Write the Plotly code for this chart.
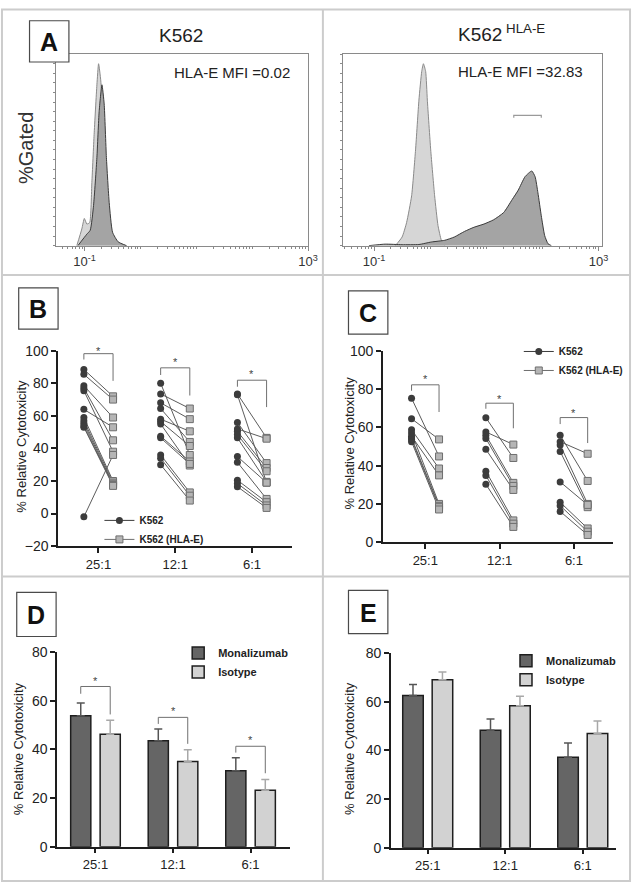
import plotly.graph_objects as go

W, H = 642, 891
FONT = "Arial, Liberation Sans, sans-serif"

# ---------------- Panel A: flow histograms (x = log10 fluorescence, y = fraction of max) ----
A1_iso_logx = [-1.14, -1.05, -1.005, -0.96, -0.91, -0.87, -0.83, -0.78, -0.75, -0.71, -0.66, -0.62, -0.58, -0.52, -0.43, -0.25]
A1_iso_y = [0, 0.087, 0.142, 0.113, 0.12, 0.33, 0.58, 0.84, 0.95, 0.86, 0.58, 0.33, 0.156, 0.053, 0.01, 0]
A1_ab_logx = [-1.12, -0.96, -0.9, -0.84, -0.78, -0.74, -0.69, -0.65, -0.61, -0.56, -0.5, -0.4, -0.25]
A1_ab_y = [0, 0.06, 0.08, 0.21, 0.46, 0.70, 0.84, 0.74, 0.46, 0.225, 0.07, 0.02, 0]

A2_iso_logx = [-0.62, -0.5, -0.42, -0.33, -0.26, -0.2, -0.15, -0.12, -0.08, -0.05, 0.01, 0.08, 0.14, 0.2, 0.26]
A2_iso_y = [0, 0.045, 0.12, 0.26, 0.5, 0.76, 0.91, 0.95, 0.91, 0.76, 0.5, 0.26, 0.105, 0.028, 0]
A2_ab_logx = [-1.09, -0.8, -0.5, -0.2, 0.02, 0.26, 0.43, 0.61, 0.78, 0.96, 1.13, 1.31, 1.46, 1.57, 1.69,
              1.81, 1.87, 1.92, 1.98, 2.04, 2.1, 2.16]
A2_ab_y = [0, 0.008, 0.005, 0.006, 0.019, 0.028, 0.045, 0.074, 0.096, 0.113, 0.135, 0.173, 0.24, 0.29, 0.36,
           0.39, 0.36, 0.276, 0.156, 0.053, 0.01, 0]
A2_gate_logx = [1.49, 1.98]
A2_gate_y = 0.68

A_titles = ["K562", "K562<sup> HLA-E</sup>"]
A_mfi = ["HLA-E MFI =0.02", "HLA-E MFI =32.83"]
A_tickvals = [0.1, 1000]
A_ticktext = ["10<sup>-1</sup>", "10<sup>3</sup>"]

# ---------------- Categories ----------------
cats = ["25:1", "12:1", "6:1"]

# ---------------- Panel B: paired % relative cytotoxicity ----------------
B_K562_25 = [88.5, 85.5, 78.5, 77, 75.5, 64, 59, 57, 55.5, 54, 53, -2]
B_HLAE_25 = [72, 70, 59, 45, 38, 53, 20, 19, 18, 17.5, 17, 36]
B_K562_12 = [80, 73.5, 68, 64.5, 58, 56.5, 55, 47.5, 46.5, 36, 34, 30]
B_HLAE_12 = [36, 64.5, 58, 44, 50.5, 41.5, 29.5, 32, 30.5, 13, 11, 8]
B_K562_6 = [73.5, 73, 56, 52, 50.5, 48.5, 46.5, 35, 31.5, 20.5, 18.5, 16.5]
B_HLAE_6 = [46.5, 19, 31, 46, 28, 26, 19.5, 19, 9, 7, 5, 3.5]
B_sig_top = [98.2, 89.5, 81.9]
B_sig_left = [94.6, 85.1, 77.9]
B_sig_right = [81.5, 72.5, 65.4]
B_star = [99.9, 93.0, 85.5]
B_yticks = [-20, 0, 20, 40, 60, 80, 100]

# ---------------- Panel C ----------------
C_K562_25 = [75.2, 64.5, 58.8, 57.1, 55.4, 54.5, 53.7, 52.5]
C_HLAE_25 = [44.8, 53.7, 38.5, 20, 34.9, 19, 18.3, 17.1]
C_K562_12 = [65, 57.6, 55.9, 54.2, 48.5, 37.1, 34.9, 30.3]
C_HLAE_12 = [44, 51, 31, 29.4, 27.3, 11.4, 9.7, 8]
C_K562_6 = [55.9, 52.5, 50.8, 47.4, 31.5, 20.9, 19.1, 16.1]
C_HLAE_6 = [32, 46.2, 20, 18.3, 19.5, 7.2, 5.5, 3.8]
C_sig_top = [82.2, 72.6, 65.1]
C_sig_left = [79.1, 69.7, 61.7]
C_sig_right = [68, 59.5, 51.8]
C_star = [85.2, 75.0, 67.3]
C_yticks = [0, 20, 40, 60, 80, 100]

# ---------------- Panel D / E: bars (mean, SEM) ----------------
D_mona = [53.9, 43.6, 31.2]
D_mona_sem = [5.2, 4.8, 5.4]
D_iso = [46.3, 35.0, 23.2]
D_iso_sem = [5.7, 4.9, 4.4]
D_sig_top = [65.9, 53.2, 41.3]
D_sig_left = [62.9, 50.5, 38.7]
D_sig_right = [54.4, 42.3, 30.2]
D_star = [68.0, 55.8, 43.8]

E_mona = [62.6, 48.3, 37.2]
E_mona_sem = [4.5, 4.6, 5.9]
E_iso = [69.1, 58.4, 47.0]
E_iso_sem = [3.2, 3.9, 5.1]
DE_yticks = [0, 20, 40, 60, 80]

series_names = ["K562", "K562 (HLA-E)"]
bar_names = ["Monalizumab", "Isotype"]
ylab = "% Relative Cytotoxicity"

# ---------------- styles ----------------
DOT = "#3c3c3c"
SQ_FILL = "#b5b5b5"
SQ_LINE = "#6e6e6e"
CONN = "#5c5c5c"
BRK = "#707070"
DARK_BAR = "#656565"
LIGHT_BAR = "#d2d2d2"
AXC = "#1e1e1e"

fig = go.Figure()
annotations = []


def hist(lx, ly, xa, ya, fill, line):
    fig.add_trace(go.Scatter(x=[10 ** v for v in lx], y=ly, mode="lines", xaxis=xa, yaxis=ya,
                             line=dict(color=line, width=1, shape="spline", smoothing=0.5),
                             fill="tozeroy", fillcolor=fill, showlegend=False, hoverinfo="skip"))


hist(A1_iso_logx, A1_iso_y, "x", "y", "#d6d6d6", "#8a8a8a")
hist(A1_ab_logx, A1_ab_y, "x", "y", "#a4a4a4", "#3a3a3a")
hist(A2_iso_logx, A2_iso_y, "x2", "y2", "#d6d6d6", "#8a8a8a")
hist(A2_ab_logx, A2_ab_y, "x2", "y2", "#a4a4a4", "#3a3a3a")
# gate marker
gx = [10 ** A2_gate_logx[0], 10 ** A2_gate_logx[0], 10 ** A2_gate_logx[1], 10 ** A2_gate_logx[1]]
fig.add_trace(go.Scatter(x=gx, y=[A2_gate_y - 0.012, A2_gate_y, A2_gate_y, A2_gate_y - 0.012], mode="lines",
                         xaxis="x2", yaxis="y2", line=dict(color="#9a9a9a", width=1.2),
                         showlegend=False, hoverinfo="skip"))


def paired(kl, hl, xa, ya, off, legend):
    lx, ly, kx, ky, hx, hy = [], [], [], [], [], []
    for ci, (k, h) in enumerate(zip(kl, hl)):
        for a, b in zip(k, h):
            lx += [ci - off, ci + off, None]
            ly += [a, b, None]
            kx.append(ci - off); ky.append(a)
            hx.append(ci + off); hy.append(b)
    fig.add_trace(go.Scatter(x=lx, y=ly, mode="lines", xaxis=xa, yaxis=ya, line=dict(color=CONN, width=1),
                             showlegend=False, hoverinfo="skip"))
    fig.add_trace(go.Scatter(x=hx, y=hy, mode="markers", xaxis=xa, yaxis=ya, showlegend=False,
                             marker=dict(symbol="square", size=7, color=SQ_FILL, line=dict(color=SQ_LINE, width=1))))
    fig.add_trace(go.Scatter(x=kx, y=ky, mode="markers", xaxis=xa, yaxis=ya, showlegend=False,
                             marker=dict(symbol="circle", size=7, color=DOT)))
    # legend entries
    fig.add_trace(go.Scatter(x=[None], y=[None], mode="lines+markers", xaxis=xa, yaxis=ya, name=series_names[0],
                             legend=legend, line=dict(color=DOT, width=1),
                             marker=dict(symbol="circle", size=7, color=DOT)))
    fig.add_trace(go.Scatter(x=[None], y=[None], mode="lines+markers", xaxis=xa, yaxis=ya, name=series_names[1],
                             legend=legend, line=dict(color=SQ_LINE, width=1),
                             marker=dict(symbol="square", size=7, color=SQ_FILL, line=dict(color=SQ_LINE, width=1))))


def brackets(top, left, right, star, xa, ya, off):
    bx, by = [], []
    for ci in range(len(top)):
        bx += [ci - off, ci - off, ci + off, ci + off, None]
        by += [left[ci], top[ci], top[ci], right[ci], None]
    fig.add_trace(go.Scatter(x=bx, y=by, mode="lines", xaxis=xa, yaxis=ya, line=dict(color=BRK, width=1),
                             showlegend=False, hoverinfo="skip", cliponaxis=False))
    for ci, sy in enumerate(star):
        annotations.append(dict(text="*", x=ci, y=sy, xref=xa, yref=ya, showarrow=False,
                                xanchor="center", yanchor="middle",
                                font=dict(family=FONT, size=11, color="#444")))


B_OFF = 0.19
C_OFF = 0.185
paired([B_K562_25, B_K562_12, B_K562_6], [B_HLAE_25, B_HLAE_12, B_HLAE_6], "x3", "y3", B_OFF, "legend")
brackets(B_sig_top, B_sig_left, B_sig_right, B_star, "x3", "y3", B_OFF)
paired([C_K562_25, C_K562_12, C_K562_6], [C_HLAE_25, C_HLAE_12, C_HLAE_6], "x4", "y4", C_OFF, "legend2")
brackets(C_sig_top, C_sig_left, C_sig_right, C_star, "x4", "y4", C_OFF)


def bars(mona, mona_sem, iso, iso_sem, xa, ya, off, width, legend):
    fig.add_trace(go.Bar(x=[i - off for i in range(len(mona))], y=mona, width=width, xaxis=xa, yaxis=ya,
                         name=bar_names[0], legend=legend,
                         marker=dict(color=DARK_BAR, line=dict(color=AXC, width=1.5)),
                         error_y=dict(type="data", array=mona_sem, arrayminus=[0] * len(mona), symmetric=False,
                                      color="#555555", thickness=1.5, width=4)))
    fig.add_trace(go.Bar(x=[i + off for i in range(len(iso))], y=iso, width=width, xaxis=xa, yaxis=ya,
                         name=bar_names[1], legend=legend,
                         marker=dict(color=LIGHT_BAR, line=dict(color=AXC, width=1.5)),
                         error_y=dict(type="data", array=iso_sem, arrayminus=[0] * len(iso), symmetric=False,
                                      color="#a8a8a8", thickness=1.5, width=4)))


bars(D_mona, D_mona_sem, D_iso, D_iso_sem, "x5", "y5", 0.19, 0.26, "legend3")
brackets(D_sig_top, D_sig_left, D_sig_right, D_star, "x5", "y5", 0.19)
bars(E_mona, E_mona_sem, E_iso, E_iso_sem, "x6", "y6", 0.19, 0.265, "legend4")


def dom_x(a, b):
    return [a / W, b / W]


def dom_y(top, bottom):
    return [1 - bottom / H, 1 - top / H]


minor_vals = [m * 10 ** d for d in range(-2, 3) for m in range(1, 10) if not (m == 1 and d == -1)]
hist_x = dict(type="log", showline=True, mirror=True, linecolor="#8a8a8a", linewidth=1, ticks="outside",
              ticklen=4, tickcolor="#8a8a8a", tickvals=A_tickvals, ticktext=A_ticktext,
              tickfont=dict(family=FONT, size=13, color="#333"), showgrid=False, zeroline=False,
              minor=dict(tickvals=minor_vals, ticks="outside", ticklen=2, tickcolor="#8a8a8a", showgrid=False))
hist_y = dict(range=[0, 1], showline=True, mirror=True, linecolor="#8a8a8a", linewidth=1, ticks="outside",
              ticklen=2, tickcolor="#8a8a8a", tickvals=[i * 0.05 for i in range(21)], showticklabels=False,
              showgrid=False, zeroline=False)


def cat_x(dom, rng):
    return dict(domain=dom, range=rng, showline=True, linecolor=AXC, linewidth=1.5, ticks="outside", ticklen=5,
                tickwidth=1.5, tickcolor=AXC, tickvals=[0, 1, 2], ticktext=cats,
                tickfont=dict(family=FONT, size=13, color="#222"), showgrid=False, zeroline=False)


def val_y(dom, rng, tv):
    return dict(domain=dom, range=rng, showline=True, linecolor=AXC, linewidth=1.5, ticks="outside", ticklen=5,
                tickwidth=1.5, tickcolor=AXC, tickvals=tv, tickfont=dict(family=FONT, size=14, color="#222"),
                showgrid=False, zeroline=False)


fig.update_layout(
    width=W, height=H, margin=dict(l=0, r=0, t=0, b=0), paper_bgcolor="white", plot_bgcolor="white",
    barmode="overlay", font=dict(family=FONT),
    xaxis=dict(domain=dom_x(57, 313), range=[-1.51, 3.0], anchor="y", **hist_x),
    yaxis=dict(domain=dom_y(47, 242), anchor="x", **hist_y),
    xaxis2=dict(domain=dom_x(348, 612), range=[-1.56, 3.07], anchor="y2", **hist_x),
    yaxis2=dict(domain=dom_y(47, 242), anchor="x2", **hist_y),
    xaxis3=dict(anchor="y3", **cat_x(dom_x(59, 297), [-0.526, 2.526])),
    yaxis3=dict(anchor="x3", **val_y(dom_y(349, 548), [-20, 100], B_yticks)),
    xaxis4=dict(anchor="y4", **cat_x(dom_x(389, 623), [-0.57, 2.53])),
    yaxis4=dict(anchor="x4", **val_y(dom_y(349, 544), [0, 100], C_yticks)),
    xaxis5=dict(anchor="y5", **cat_x(dom_x(58, 295), [-0.495, 2.514])),
    yaxis5=dict(anchor="x5", **val_y(dom_y(656, 854), [0, 80], DE_yticks)),
    xaxis6=dict(anchor="y6", **cat_x(dom_x(397, 626), [-0.476, 2.432])),
    yaxis6=dict(anchor="x6", **val_y(dom_y(657, 855), [0, 80], DE_yticks)),
)

leg_common = dict(xanchor="left", yanchor="top", bgcolor="rgba(0,0,0,0)", borderwidth=0, itemwidth=30,
                  tracegroupgap=0, font=dict(family=FONT, size=10, color="#222", weight="bold"))
leg_bar = {**leg_common, "font": dict(family=FONT, size=11, color="#222", weight="bold")}
fig.update_layout(
    legend=dict(x=101 / W, y=1 - 507 / H, **leg_common),
    legend2=dict(x=527 / W, y=1 - 335 / H, **leg_common),
    legend3=dict(x=181 / W, y=1 - 642 / H, **leg_bar),
    legend4=dict(x=514 / W, y=1 - 650 / H, **leg_bar),
)

shapes = []
DIV = "#cccccc"
# outer frame and dividers
shapes.append(dict(type="rect", xref="paper", yref="paper", x0=2 / W, x1=640 / W, y0=1 - 889 / H, y1=1 - 1.5 / H,
                   line=dict(color=DIV, width=2)))
shapes.append(dict(type="line", xref="paper", yref="paper", x0=328 / W, x1=328 / W, y0=1 - 889 / H, y1=1 - 1.5 / H,
                   line=dict(color=DIV, width=2)))
for yy in (272, 579):
    shapes.append(dict(type="line", xref="paper", yref="paper", x0=2 / W, x1=640 / W, y0=1 - yy / H, y1=1 - yy / H,
                       line=dict(color=DIV, width=2)))


def note(text, x, y, size, angle=0, color="#222"):
    annotations.append(dict(text=text, x=x / W, y=1 - y / H, xref="paper", yref="paper", showarrow=False,
                            xanchor="center", yanchor="middle", textangle=angle,
                            font=dict(family=FONT, size=size, color=color)))


# panel letter boxes
for letter, (x0, y0, x1, y1) in zip("ABCDE", [(30, 13, 70, 55), (19, 285, 59, 327), (354, 288, 394, 332),
                                             (17, 595, 57, 640), (354, 593, 394, 637)]):
    shapes.append(dict(type="rect", xref="paper", yref="paper", x0=x0 / W, x1=x1 / W, y0=1 - y1 / H, y1=1 - y0 / H,
                       line=dict(color="#4a4a4a", width=1.2), fillcolor="white", layer="above"))
    note("<b>%s</b>" % letter, (x0 + x1) / 2, (y0 + y1) / 2 + 1, 25, color="#111")

note(A_titles[0], 184, 28, 19)
note(A_titles[1], 509, 25, 19)
note(A_mfi[0], 236, 66, 15)
note(A_mfi[1], 529, 65, 15)
note("%Gated", 27, 143, 20, angle=-90, color="#333")
# y-axis titles of panels B-E
for (tx, ty) in [(22, 446), (355, 443), (19, 754), (355, 754)]:
    note(ylab, tx, ty, 13, angle=-90)

fig.update_layout(shapes=shapes, annotations=annotations)
fig.write_html("out.html", config={"displayModeBar": False},
               post_script=["document.body.style.margin='0';"])
